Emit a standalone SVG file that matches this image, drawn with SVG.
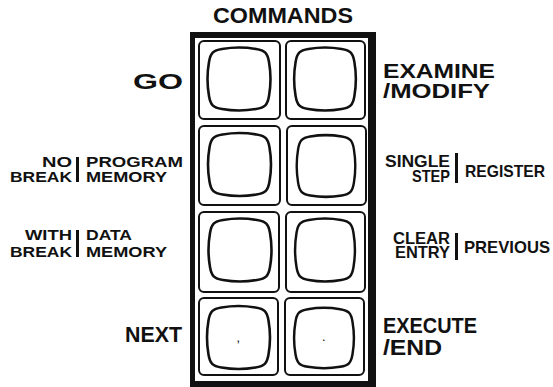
<svg xmlns="http://www.w3.org/2000/svg" xmlns:xlink="http://www.w3.org/1999/xlink" width="553" height="387" viewBox="0 0 553 387">
<style>
  .t { font-family: "Liberation Sans", Arial, sans-serif; font-weight: bold; fill: #111; }
  .big { font-size: 22px; }
  .sm { font-size: 15.5px; }
  .smr { font-size: 16.5px; }
  .key { fill: none; stroke: #111; stroke-width: 2; }
  .scr { fill: none; stroke: #111; stroke-width: 2.6; }
  .bar { fill: #111; }
</style>
<defs>
  <path id="squircle" d="M -17,-30 Q 0,-33 17,-30 C 26,-28.5 28.5,-26 30,-17 Q 33,0 30,17 C 28.5,26 26,28.5 17,30 Q 0,33 -17,30 C -26,28.5 -28.5,26 -30,17 Q -33,0 -30,-17 C -28.5,-26 -26,-28.5 -17,-30 Z"/>
</defs>
<rect width="553" height="387" fill="#fff"/>

<g id="frame">
  <path fill="#111" fill-rule="evenodd" d="M190,32 H376 V387 H190 Z M195,38 V381 H368 V38 Z"/>
</g>

<g id="connectors"></g>

<g id="key-go">
  <rect class="key" x="199" y="41" width="81" height="78" rx="5"/>
  <use href="#squircle" class="scr" transform="translate(239,79)"/>
</g>
<g id="key-examine">
  <rect class="key" x="286" y="41" width="79" height="78" rx="5"/>
  <use href="#squircle" class="scr" transform="translate(325,79) scale(0.98,1)"/>
</g>
<g id="key-program">
  <rect class="key" x="199" y="126" width="81" height="79" rx="5"/>
  <use href="#squircle" class="scr" transform="translate(239.5,164.5)"/>
</g>
<g id="key-register">
  <rect class="key" x="287" y="126" width="79" height="79" rx="5"/>
  <use href="#squircle" class="scr" transform="translate(326,166) scale(0.93,0.98)"/>
</g>
<g id="key-data">
  <rect class="key" x="199" y="212" width="80" height="80" rx="5"/>
  <use href="#squircle" class="scr" transform="translate(240,250)"/>
</g>
<g id="key-previous">
  <rect class="key" x="286" y="212" width="79" height="80" rx="5"/>
  <use href="#squircle" class="scr" transform="translate(325,250) scale(0.95,1)"/>
</g>
<g id="key-next">
  <rect class="key" x="199" y="298" width="79" height="77" rx="5"/>
  <use href="#squircle" class="scr" transform="translate(238.5,337.5)"/>
  <text class="t" x="237" y="342" font-size="9">,</text>
</g>
<g id="key-execute">
  <rect class="key" x="285" y="298" width="79" height="77" rx="5"/>
  <use href="#squircle" class="scr" transform="translate(324,338) scale(0.95,0.96)"/>
  <text class="t" x="322.5" y="341" font-size="9">.</text>
</g>

<g id="labels">
  <text class="t big" x="213" y="23" textLength="140" lengthAdjust="spacingAndGlyphs">COMMANDS</text>
  <text class="t big" x="133" y="89" textLength="50" lengthAdjust="spacingAndGlyphs">GO</text>
  <text class="t" x="383" y="78" font-size="21" textLength="112" lengthAdjust="spacingAndGlyphs">EXAMINE</text>
  <text class="t" x="383" y="98" font-size="21" textLength="107" lengthAdjust="spacingAndGlyphs">/MODIFY</text>

  <text class="t sm" x="42" y="167" textLength="30" lengthAdjust="spacingAndGlyphs">NO</text>
  <text class="t sm" x="10" y="182" textLength="62" lengthAdjust="spacingAndGlyphs">BREAK</text>
  <rect class="bar" x="76" y="157" width="3" height="25"/>
  <text class="t sm" x="86" y="167" textLength="97" lengthAdjust="spacingAndGlyphs">PROGRAM</text>
  <text class="t sm" x="86" y="182" textLength="81" lengthAdjust="spacingAndGlyphs">MEMORY</text>

  <text class="t sm" x="25" y="240" textLength="47" lengthAdjust="spacingAndGlyphs">WITH</text>
  <text class="t sm" x="10" y="257" textLength="62" lengthAdjust="spacingAndGlyphs">BREAK</text>
  <rect class="bar" x="76" y="230" width="3" height="27"/>
  <text class="t sm" x="86" y="240" textLength="46" lengthAdjust="spacingAndGlyphs">DATA</text>
  <text class="t sm" x="86" y="257" textLength="81" lengthAdjust="spacingAndGlyphs">MEMORY</text>

  <text class="t smr" x="385" y="167" textLength="65" lengthAdjust="spacingAndGlyphs">SINGLE</text>
  <text class="t smr" x="412" y="182" textLength="38" lengthAdjust="spacingAndGlyphs">STEP</text>
  <rect class="bar" x="455" y="153" width="3" height="30"/>
  <text class="t smr" x="465" y="177" textLength="80" lengthAdjust="spacingAndGlyphs">REGISTER</text>

  <text class="t" x="393" y="243.5" font-size="16" textLength="57" lengthAdjust="spacingAndGlyphs">CLEAR</text>
  <text class="t" x="395" y="258" font-size="16.5" textLength="55" lengthAdjust="spacingAndGlyphs">ENTRY</text>
  <rect class="bar" x="455" y="233" width="3" height="27"/>
  <text class="t" x="464" y="253" font-size="17" textLength="86" lengthAdjust="spacingAndGlyphs">PREVIOUS</text>

  <text class="t big" x="125" y="342" textLength="57" lengthAdjust="spacingAndGlyphs">NEXT</text>
  <text class="t big" x="383" y="333" textLength="94" lengthAdjust="spacingAndGlyphs">EXECUTE</text>
  <text class="t big" x="383" y="355" textLength="59" lengthAdjust="spacingAndGlyphs">/END</text>
</g>
</svg>
